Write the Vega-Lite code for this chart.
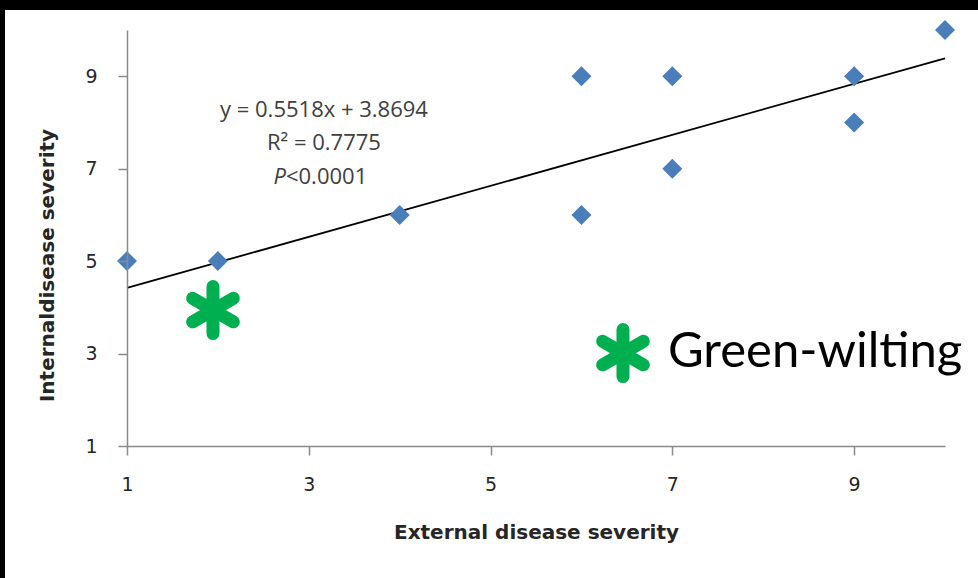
{
  "$schema": "https://vega.github.io/schema/vega-lite/v6.json",
  "width": 818,
  "height": 416,
  "autosize": {"type": "none"},
  "padding": {"left": 127, "top": 30, "right": 33, "bottom": 132},
  "background": "black",
  "config": {
    "view": {"stroke": null},
    "font": "DejaVu Sans",
    "axis": {
      "domainColor": "#8a8a8a", "domainWidth": 1.5, "grid": false,
      "tickSize": 9, "tickColor": "#8a8a8a", "tickWidth": 1.5,
      "labelFont": "DejaVu Sans", "labelFontSize": 19, "labelColor": "#262626", "labelFlush": false,
      "titleFont": "DejaVu Sans", "titleFontSize": 20, "titleFontWeight": "bold", "titleColor": "#262626"
    },
    "axisX": {"labelPadding": 20, "titlePadding": 28},
    "axisY": {"labelPadding": 21, "titleX": -80, "titleY": 235, "titleBaseline": "middle"}
  },
  "data": {"values": [
    {"external": 1, "internal": 5},
    {"external": 2, "internal": 5},
    {"external": 4, "internal": 6},
    {"external": 6, "internal": 9},
    {"external": 6, "internal": 6},
    {"external": 7, "internal": 9},
    {"external": 7, "internal": 7},
    {"external": 9, "internal": 9},
    {"external": 9, "internal": 8},
    {"external": 10, "internal": 10}
  ]},
  "encoding": {
    "x": {"field": "external", "type": "quantitative",
      "scale": {"domain": [1, 10], "nice": false, "zero": false},
      "axis": {"title": "External disease severity", "values": [1, 3, 5, 7, 9], "zindex": 1}},
    "y": {"field": "internal", "type": "quantitative",
      "scale": {"domain": [1, 10], "nice": false, "zero": false},
      "axis": {"title": "Internaldisease severity", "values": [1, 3, 5, 7, 9], "zindex": 1}}
  },
  "layer": [
    {
      "data": {"values": [{"external": -0.3423, "external_end": 10.3631, "internal": -1.8558, "internal_end": 10.4327}]},
      "mark": {"type": "rect", "fill": "white", "opacity": 1, "clip": false},
      "encoding": {
        "x2": {"field": "external_end"},
        "y2": {"field": "internal_end"}
      }
    },
    {
      "data": {"values": [{"external": 1, "internal": 4.4212}, {"external": 10, "internal": 9.3874}]},
      "mark": {"type": "line", "color": "black", "strokeWidth": 1.8}
    },
    {
      "mark": {"type": "point", "shape": "diamond", "filled": true, "color": "#4a7ebb", "opacity": 1, "size": 400}
    },
    {
      "data": {"values": [{"external": 1.946, "internal": 3.94}, {"external": 6.457, "internal": 3.01}]},
      "mark": {"type": "point", "shape": "M0,-1L0,1M-0.866,-0.5L0.866,0.5M-0.866,0.5L0.866,-0.5", "filled": false, "stroke": "#00b050", "strokeWidth": 13, "strokeCap": "round", "opacity": 1, "size": 2209}
    },
    {
      "data": {"values": [{"external": 6.952, "internal": 2.709, "label": "Green-wilting"}]},
      "mark": {"type": "text", "font": "Lato", "fontSize": 49, "color": "black", "align": "left", "baseline": "alphabetic"},
      "encoding": {"text": {"field": "label"}}
    },
    {
      "data": {"values": [
        {"external": 3.167, "internal": 8.269, "label": "y = 0.5518x + 3.8694"},
        {"external": 3.167, "internal": 7.555, "label": "R² = 0.7775"}
      ]},
      "mark": {"type": "text", "font": "Open Sans", "fontSize": 22, "color": "#404040", "align": "center", "baseline": "middle"},
      "encoding": {"text": {"field": "label"}}
    },
    {
      "data": {"values": [{"external": 2.749, "internal": 6.82, "label": "P"}]},
      "mark": {"type": "text", "font": "Open Sans", "fontSize": 22, "fontStyle": "italic", "color": "#404040", "align": "right", "baseline": "middle"},
      "encoding": {"text": {"field": "label"}}
    },
    {
      "data": {"values": [{"external": 2.749, "internal": 6.82, "label": "<0.0001"}]},
      "mark": {"type": "text", "font": "Open Sans", "fontSize": 22, "color": "#404040", "align": "left", "baseline": "middle"},
      "encoding": {"text": {"field": "label"}}
    }
  ]
}
